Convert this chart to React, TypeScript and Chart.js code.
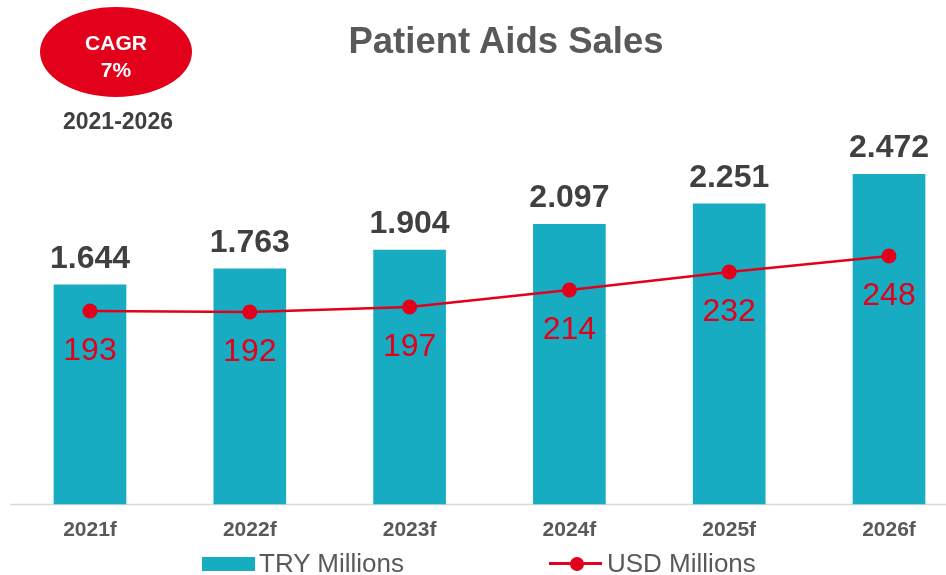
import React, { useEffect, useRef } from "react";
import { Chart, registerables } from "chart.js";

Chart.register(...registerables);

const categories = ["2021f", "2022f", "2023f", "2024f", "2025f", "2026f"];
const tryMillions = [1.644, 1.763, 1.904, 2.097, 2.251, 2.472];
const usdMillions = [193, 192, 197, 214, 232, 248];
const seriesNames = ["TRY Millions", "USD Millions"];
const chartTitle = "Patient Aids Sales";
const cagrLines = ["CAGR", "7%"];
const cagrPeriod = "2021-2026";

const TEAL = "#17ACC2";
const RED = "#E2001A";
const FONT = "'Liberation Sans', Arial, Helvetica, sans-serif";

const labelPlugin = {
  id: "valueLabels",
  beforeDatasetsDraw(chart: any) {
    const { ctx, chartArea } = chart;
    ctx.save();
    ctx.strokeStyle = "#D9D9D9";
    ctx.lineWidth = 1.5;
    ctx.beginPath();
    ctx.moveTo(10, chartArea.bottom + 0.5);
    ctx.lineTo(chart.width, chartArea.bottom + 0.5);
    ctx.stroke();
    ctx.restore();
  },
  afterDatasetsDraw(chart: any) {
    const { ctx } = chart;
    ctx.save();
    ctx.textAlign = "center";
    ctx.textBaseline = "alphabetic";
    const barMeta = chart.getDatasetMeta(1);
    ctx.font = `bold 32px ${FONT}`;
    ctx.fillStyle = "#404040";
    barMeta.data.forEach((el: any, i: number) => {
      ctx.fillText(tryMillions[i].toFixed(3), el.x, el.y - 17);
    });
    const lineMeta = chart.getDatasetMeta(0);
    ctx.font = `32px ${FONT}`;
    ctx.fillStyle = RED;
    lineMeta.data.forEach((el: any, i: number) => {
      ctx.fillText(String(usdMillions[i]), el.x, el.y + 49);
    });
    ctx.restore();
  },
};

export default function App() {
  const canvasRef = useRef<HTMLCanvasElement | null>(null);

  useEffect(() => {
    if (!canvasRef.current) return;
    const chart = new Chart(canvasRef.current, {
      type: "bar",
      data: {
        labels: categories,
        datasets: [
          {
            type: "line",
            label: seriesNames[1],
            data: usdMillions,
            yAxisID: "yUsd",
            borderColor: RED,
            backgroundColor: RED,
            borderWidth: 2.5,
            pointRadius: 7.5,
            pointBackgroundColor: RED,
            pointBorderWidth: 0,
            tension: 0,
            clip: false,
            order: 0,
          } as any,
          {
            type: "bar",
            label: seriesNames[0],
            data: tryMillions,
            yAxisID: "yTry",
            backgroundColor: TEAL,
            borderWidth: 0,
            barThickness: 72,
            clip: false,
            order: 1,
          } as any,
        ],
      },
      options: {
        responsive: false,
        animation: false,
        layout: { padding: { left: 90, right: 57, top: 104, bottom: 0 } },
        plugins: {
          legend: { display: false },
          title: { display: false },
          tooltip: { enabled: false },
        },
        scales: {
          x: {
            type: "category",
            offset: false,
            grid: { display: false, drawTicks: false },
            border: { display: false },
            ticks: {
              padding: 14,
              color: "#595959",
              font: { family: FONT, size: 21, weight: "bold" },
              maxRotation: 0,
              autoSkip: false,
            },
            afterFit: (s: any) => {
              s.height = 71;
            },
          },
          yTry: {
            type: "linear",
            position: "left",
            min: 0,
            max: 3,
            display: false,
          },
          yUsd: {
            type: "linear",
            position: "right",
            min: 0,
            max: 400,
            display: false,
          },
        },
      },
      plugins: [labelPlugin],
    });
    return () => chart.destroy();
  }, []);

  return (
    <div style={{ position: "fixed", left: 0, top: 0, width: 946, height: 575, background: "#fff", fontFamily: FONT }}>
      <canvas ref={canvasRef} width={946} height={575} style={{ position: "absolute", left: 0, top: 0 }} />
      <div
        style={{
          position: "absolute",
          left: 306,
          width: 400,
          top: 23,
          textAlign: "center",
          fontSize: 36.5,
          lineHeight: "36px",
          fontWeight: "bold",
          color: "#595959",
        }}
      >
        {chartTitle}
      </div>
      <div
        style={{
          position: "absolute",
          left: 40,
          top: 7,
          width: 152,
          height: 90,
          borderRadius: "50%",
          background: RED,
        }}
      />
      <div
        style={{
          position: "absolute",
          left: 40,
          width: 152,
          top: 30,
          textAlign: "center",
          color: "#fff",
          fontWeight: "bold",
          fontSize: 21,
          lineHeight: "26.5px",
        }}
      >
        {cagrLines.map((t) => (
          <div key={t}>{t}</div>
        ))}
      </div>
      <div
        style={{
          position: "absolute",
          left: 18,
          width: 200,
          top: 110,
          textAlign: "center",
          color: "#404040",
          fontWeight: "bold",
          fontSize: 23,
          lineHeight: "23px",
        }}
      >
        {cagrPeriod}
      </div>
      <div style={{ position: "absolute", left: 202, top: 557, width: 53, height: 14, background: TEAL }} />
      <div style={{ position: "absolute", left: 259, top: 549.5, fontSize: 26, lineHeight: "26px", color: "#595959" }}>
        {seriesNames[0]}
      </div>
      <div style={{ position: "absolute", left: 549, top: 562, width: 53, height: 2.5, background: RED }} />
      <div
        style={{ position: "absolute", left: 570, top: 556.5, width: 14, height: 14, borderRadius: "50%", background: RED }}
      />
      <div style={{ position: "absolute", left: 607, top: 549.5, fontSize: 26, lineHeight: "26px", color: "#595959" }}>
        {seriesNames[1]}
      </div>
    </div>
  );
}
